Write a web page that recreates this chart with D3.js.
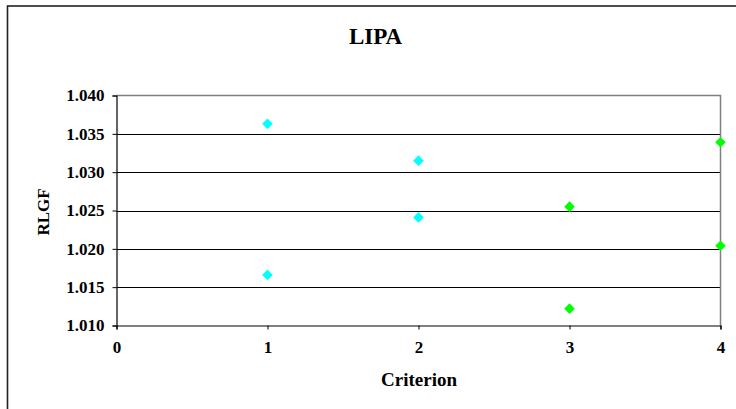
<!DOCTYPE html>
<html>
<head>
<meta charset="utf-8">
<script src="https://cdn.jsdelivr.net/npm/d3@7"></script>
<style>
  html, body { margin: 0; padding: 0; background: #fff; }
  svg { display: block; }
  text { font-family: "Liberation Serif", "Times New Roman", serif; font-weight: bold; fill: #000; }
</style>
</head>
<body>
<svg id="chart" width="736" height="409"></svg>
<script>
const title = "LIPA";
const xTitle = "Criterion";
const yTitle = "RLGF";
const xTicks = [0, 1, 2, 3, 4];
const yTicks = [1.010, 1.015, 1.020, 1.025, 1.030, 1.035, 1.040];
const cyanX = [1, 1, 2, 2];
const cyanY = [1.0363, 1.0166, 1.0315, 1.0241];
const greenX = [3, 3, 4, 4];
const greenY = [1.0255, 1.0122, 1.0339, 1.0204];

(function () {
const svg = d3.select("#chart");
const pL = 116.5, pR = 720.5, pT = 95.5, pB = 325.5;
const x = d3.scaleLinear().domain([0, 4]).range([pL, pR]);
const y = d3.scaleLinear().domain([1.010, 1.040]).range([pB, pT]);

// outer chart border
svg.append("rect").attr("x", 7.5).attr("y", 6).attr("width", 740).attr("height", 420)
  .attr("fill", "none").attr("stroke", "#222").attr("stroke-width", 1.6);

// gridlines
svg.append("g").selectAll("line").data(yTicks.slice(1, -1)).join("line")
  .attr("x1", pL).attr("x2", pR)
  .attr("y1", d => Math.round(y(d)) + 0.5).attr("y2", d => Math.round(y(d)) + 0.5)
  .attr("stroke", "#000").attr("stroke-width", 1);

// plot area border (top/right)
svg.append("path")
  .attr("d", `M${pL},${pT}H${pR}V${pB}`)
  .attr("fill", "none").attr("stroke", "#808080").attr("stroke-width", 1.5);

// axes
const yAxis = d3.axisLeft(y).tickValues(yTicks).tickFormat(d3.format(".3f")).tickSize(4).tickPadding(8);
const gy = svg.append("g").attr("transform", `translate(${pL},0)`).call(yAxis);
const xAxis = d3.axisBottom(x).tickValues(xTicks).tickFormat(d3.format("d")).tickSize(4).tickPadding(11);
const gx = svg.append("g").attr("transform", `translate(0,${pB})`).call(xAxis);
[gy, gx].forEach(g => {
  g.attr("font-family", null).attr("font-size", null);
  g.select(".domain").attr("stroke", "#000").attr("stroke-width", 1.2);
  g.selectAll(".tick line").attr("stroke", "#000");
  g.selectAll(".tick text").style("font-size", "17px").style("font-family", "'Liberation Serif', 'Times New Roman', serif").style("font-weight", "bold").attr("fill", "#000");
});

// points
const diamond = d3.symbol().type(d3.symbolSquare).size(56);
function drawSeries(xs, ys, color) {
  svg.append("g").selectAll("path").data(xs.map((d, i) => [d, ys[i]])).join("path")
    .attr("d", diamond)
    .attr("transform", d => `translate(${x(d[0])},${y(d[1])}) rotate(45)`)
    .attr("fill", color);
}
drawSeries(cyanX, cyanY, "#00ffff");
drawSeries(greenX, greenY, "#00ff00");

// titles
svg.append("text").attr("x", 375.5).attr("y", 44).attr("text-anchor", "middle")
  .style("font-size", "23px").text(title);
svg.append("text").attr("x", 419).attr("y", 386).attr("text-anchor", "middle")
  .style("font-size", "19px").text(xTitle);
svg.append("text").attr("transform", `translate(49,212) rotate(-90)`).attr("text-anchor", "middle")
  .style("font-size", "17px").text(yTitle);
})();
</script>
</body>
</html>
